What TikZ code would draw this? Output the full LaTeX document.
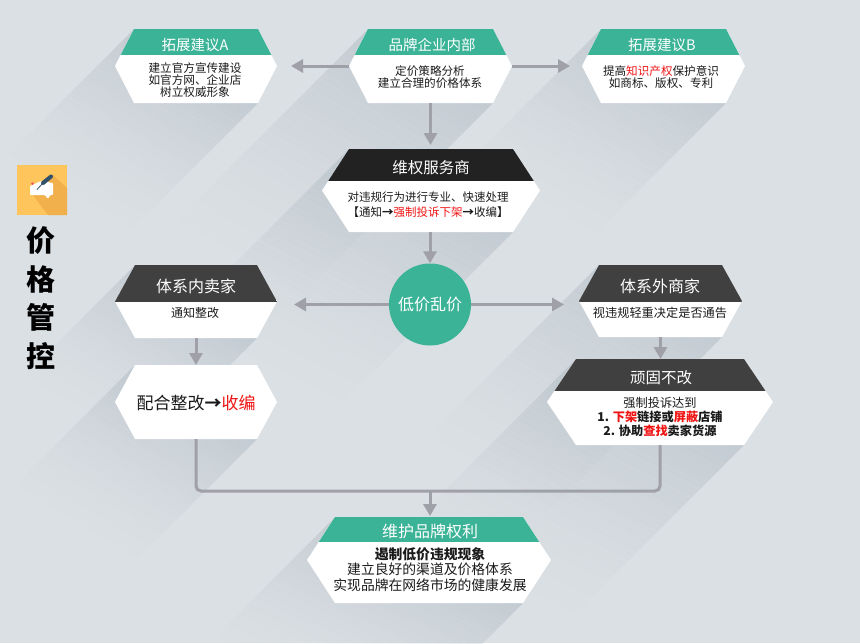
\documentclass[tikz,border=0pt]{standalone}
\usepackage{fontspec}
\setmainfont{Noto Sans CJK SC}
\usetikzlibrary{arrows.meta,calc}
\definecolor{bgc}{HTML}{DBE0E4}
\definecolor{shc}{HTML}{AEB9C3}
\definecolor{teal1}{HTML}{3BB397}
\definecolor{dark1}{HTML}{404040}
\definecolor{black1}{HTML}{222222}
\definecolor{conn}{HTML}{A0A0A8}
\definecolor{red1}{HTML}{F01414}
\definecolor{txt}{HTML}{1A1A1A}
\definecolor{iconbg}{RGB}{253,197,92}
\definecolor{iconsh}{RGB}{242,176,76}
\definecolor{iconpen}{RGB}{51,80,107}
\newcommand{\fs}[1]{\fontsize{#1}{#1}\selectfont}
\newcommand{\hl}[1]{\textcolor{red1}{#1}}
\tikzset{
  x=1pt,y=-1pt,
  connector/.style={draw=conn,line width=3pt,-{Triangle[length=12pt,width=13pt]}},
  connline/.style={draw=conn,line width=3pt,rounded corners=5pt},
  hexanchor/.style={inner sep=0pt,outer sep=0pt},
  headtext/.style={text=white,inner sep=0pt,anchor=center,font=\fs{15.5}},
  bodytext/.style={text=txt,inner sep=0pt,anchor=center,align=center},
  titlechar/.style={text=black,inner sep=0pt,font=\bfseries\fs{29}},
}
\begin{document}
\begin{tikzpicture}
\useasboundingbox (0,0) rectangle (860,643);
\fill[bgc] (0,0) rectangle (860,643);
\begin{scope}
\clip (0,0) rectangle (860,643);
% long shadows, built from thin bands whose opacity falls away from the box
\foreach \xl/\xr/\yt/\yb/\ins/\len in {
 115/277/29/103/19/125, 349/512/29/103/19/190, 582/745/29/103/19/130,
 322/540/149/232/27/170, 115/277/265/338/20/110, 115/277/365/439/20/120,
 579/742/265/337/20/170, 547/773/359/445/29/170, 307/551/517/603/28/120}{
  \foreach \k in {0,...,39}{
    \pgfmathsetmacro{\sa}{\len*\k/40}
    \pgfmathsetmacro{\sb}{\len*(\k+1)/40}
    \pgfmathsetmacro{\op}{0.5*(1-\k/40)^1.4}
    \fill[shc,opacity=\op]
      (\xl+\ins-\sa,\yt+\sa) -- (\xr-\ins-\sa,\yb+\sa) -- (\xr-\ins-\sb,\yb+\sb) -- (\xl+\ins-\sb,\yt+\sb) -- cycle;
  }
}
\end{scope}
% hexagon boxes
\foreach \nm/\xl/\xr/\yt/\yb/\ins/\yh/\col in {
 boxa/115/277/29/103/19/55/teal1, boxc/349/512/29/103/19/55/teal1, boxb/582/745/29/103/19/55/teal1,
 boxw/322/540/149/232/27/181/black1, boxin/115/277/265/338/20/302/dark1, boxfix/115/277/365/439/20/365/white,
 boxout/579/742/265/337/20/302/dark1, boxhard/547/773/359/445/29/391/dark1, boxend/307/551/517/603/28/542/teal1}{
  \pgfmathsetmacro{\mx}{(\xl+\xr)/2}
  \pgfmathsetmacro{\my}{(\yt+\yb)/2}
  \pgfmathsetmacro{\bw}{\xr-\xl}
  \pgfmathsetmacro{\bh}{\yb-\yt}
  \fill[white] (\xl,\my) -- (\xl+\ins,\yt) -- (\xr-\ins,\yt) -- (\xr,\my) -- (\xr-\ins,\yb) -- (\xl+\ins,\yb) -- cycle;
  \begin{scope}
    \clip (\xl,\my) -- (\xl+\ins,\yt) -- (\xr-\ins,\yt) -- (\xr,\my) -- (\xr-\ins,\yb) -- (\xl+\ins,\yb) -- cycle;
    \fill[\col] (\xl,\yt) rectangle (\xr,\yh);
  \end{scope}
  \node[hexanchor,minimum width=\bw pt,minimum height=\bh pt] (\nm) at (\mx,\my) {};
}
% circle
\node[circle,fill=teal1,minimum size=82pt,inner sep=0pt,text=white,font=\fs{16}] (low) at (430,304.5) {低价乱价};
\coordinate (join) at (430,491);
% connectors
\draw[connector,shorten >=14pt] (boxc.west) -- (boxa.east);
\draw[connector,shorten >=12pt] (boxc.east) -- (boxb.west);
\draw[connector,shorten >=4pt] (boxc.south) -- (boxc.south |- boxw.north);
\draw[connector] (low.north |- boxw.south) -- (low.north);
\draw[connector,shorten >=17pt] (low.west) -- (low.west -| boxin.east);
\draw[connector,shorten >=15pt] (low.east) -- (low.east -| boxout.west);
\draw[connector] (boxin.south) -- (boxfix.north);
\draw[connector] (boxout.south) -- (boxout.south |- boxhard.north);
\draw[connline] (boxfix.south) |- (join) -| (boxhard.south);
\draw[connector,shorten >=1pt] (join) -- (join |- boxend.north);
% headers
\node[headtext,font=\fs{14.5}] (ha) at (195,45) {拓展建议A};
\node[headtext,font=\fs{14.5}] (hc) at (432,45) {品牌企业内部};
\node[headtext,font=\fs{14.5}] (hb) at (662,45) {拓展建议B};
\node[headtext] (hw) at (431,168) {维权服务商};
\node[headtext,font=\fs{16}] (hin) at (196,286) {体系内卖家};
\node[headtext,font=\fs{16}] (hout) at (660,286) {体系外商家};
\node[headtext] (hhard) at (661,378) {顽固不改};
\node[headtext,font=\fs{16}] (hend) at (430,531) {维护品牌权利};
% bodies
\node[bodytext,font=\fontsize{11.6}{12}\selectfont] (ta) at (195,80) {建立官方宣传建设\\如官方网、企业店\\树立权威形象};
\node[bodytext,font=\fontsize{11.6}{12}\selectfont] (tc) at (430,77) {定价策略分析\\建立合理的价格体系};
\node[bodytext,font=\fontsize{11.6}{12}\selectfont] (tb) at (661,77) {提高\hl{知识产权}保护意识\\如商标、版权、专利};
\node[bodytext,font=\fontsize{11.5}{15}\selectfont] (tw) at (428,204.5) {对违规行为进行专业、快速处理\\【通知\textbf{→}\hl{强制投诉下架}\textbf{→}收编】};
\node[bodytext,font=\fs{12}] (tin) at (195,313) {通知整改};
\node[bodytext,font=\fs{17}] (tfix) at (196,403) {配合整改\textbf{→}\hl{收编}};
\node[bodytext,font=\fs{12.2}] (tout) at (660,313) {视违规轻重决定是否通告};
\node[bodytext,font=\fontsize{12.2}{14}\selectfont] (thard) at (660,417) {强制投诉达到\\\textbf{1. \hl{下架}链接或\hl{屏蔽}店铺}\\\textbf{2. 协助\hl{查找}卖家货源}};
\node[bodytext,font=\fontsize{13.8}{15.5}\selectfont] (tend) at (430,569.5) {\textbf{遏制低价违规现象}\\建立良好的渠道及价格体系\\实现品牌在网络市场的健康发展};
% icon
\fill[iconbg] (17,165) rectangle (67,215);
\fill[iconsh] (53,175) -- (67,188) -- (67,215) -- (48,215) -- (33,195) -- cycle;
\fill[white,rounded corners=1pt] (30,186) -- (41,181) -- (53,183) -- (53,195) -- (50,195) -- (48,199) -- (45,195) -- (30,195) -- cycle;
\draw[iconpen,line width=4pt,line cap=round] (43,183) -- (51,176.5);
\draw[iconpen,line width=.8pt] (37,189.5) -- (43,183);
\fill[red1!70!white] (32.5,183.5) circle (1.5pt);
% title
\node[titlechar] (c1) at (41,241) {价};
\node[titlechar] (c2) at (41,279) {格};
\node[titlechar] (c3) at (41,317) {管};
\node[titlechar] (c4) at (41,356) {控};
\end{tikzpicture}
\end{document}
